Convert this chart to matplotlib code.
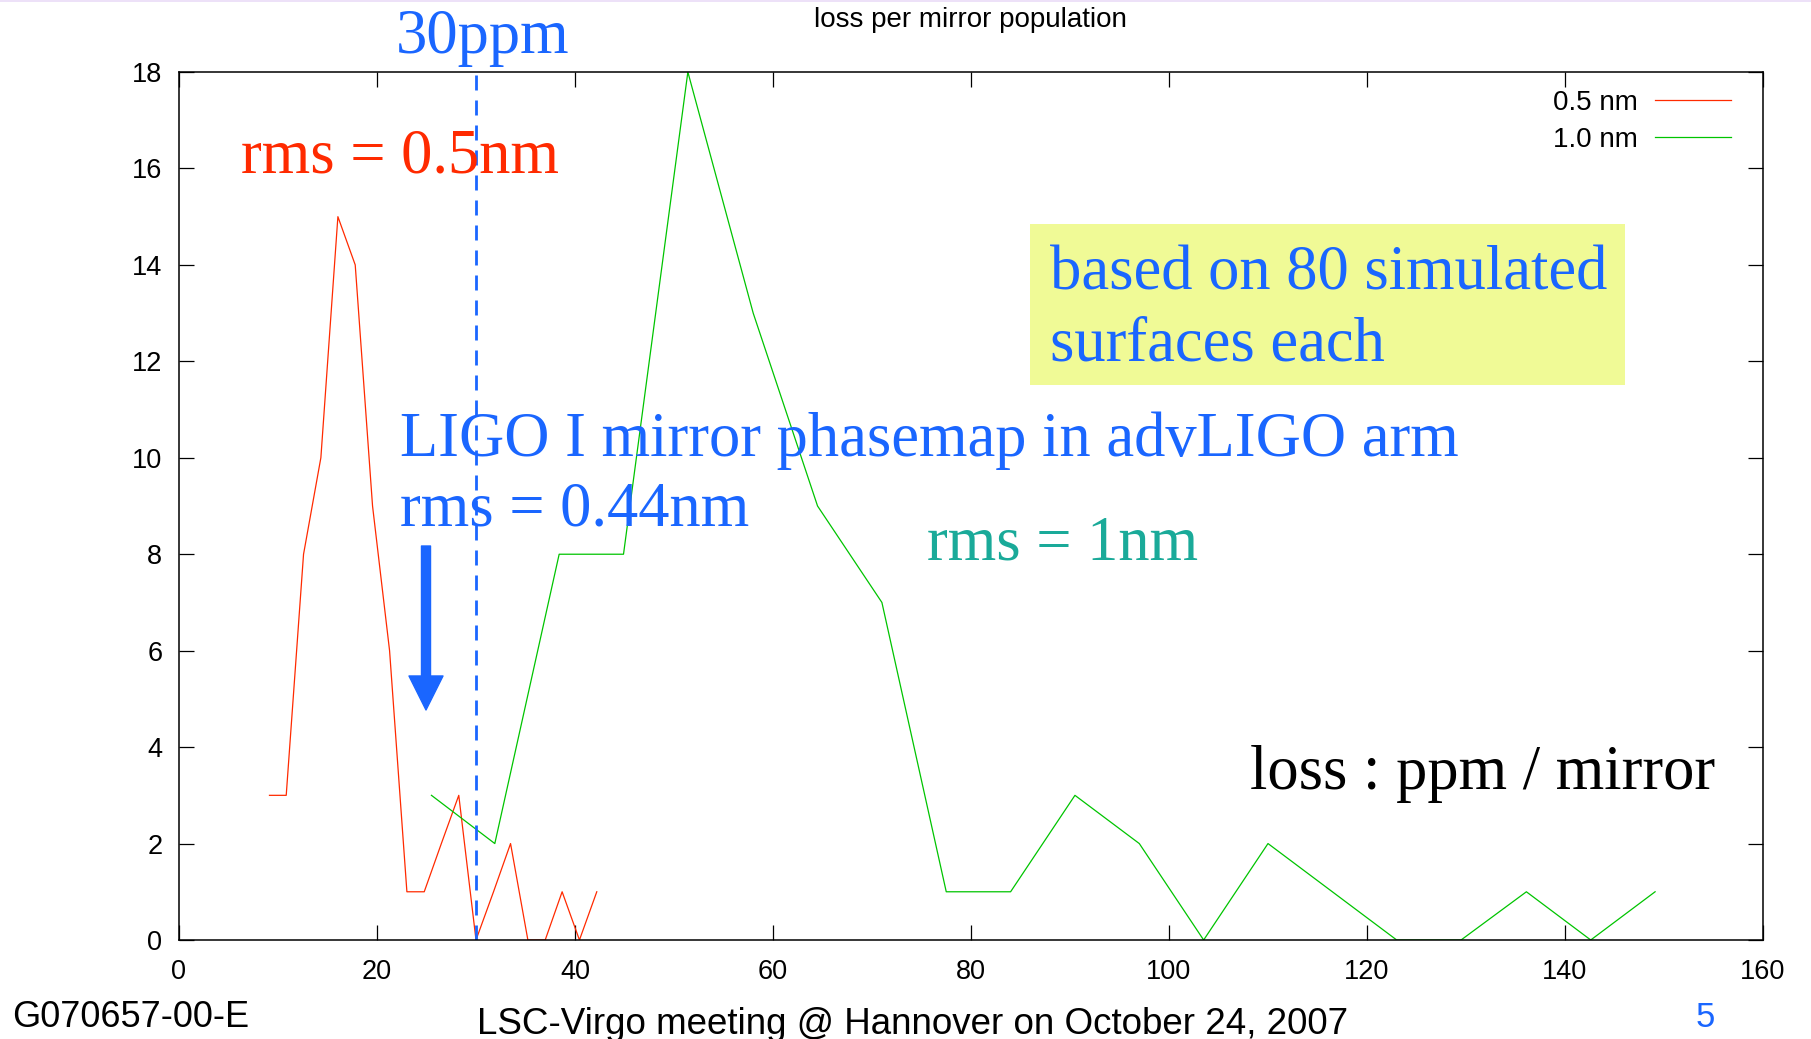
import matplotlib
matplotlib.use("Agg")
import matplotlib.pyplot as plt
from matplotlib.lines import Line2D
from matplotlib.patches import Rectangle

# loss histograms (ppm per mirror), 80 simulated surfaces per rms value
x_05nm = [9.14, 10.83, 12.58, 14.33, 16.05, 17.8, 19.55, 21.27, 23.02, 24.77,
          26.5, 28.26, 30.0, 31.77, 33.49, 35.24, 36.99, 38.7, 40.45, 42.2]
n_05nm = [3, 3, 8, 10, 15, 14, 9, 6, 1, 1, 2, 3, 0, 1, 2, 0, 0, 1, 0, 1]

x_10nm = [25.5, 31.9, 38.4, 44.9, 51.4, 58.0, 64.5, 71.0, 77.5, 84.0,
          90.5, 97.0, 103.5, 110.0, 116.5, 123.0, 129.5, 136.1, 142.6, 149.1]
n_10nm = [3, 2, 8, 8, 18, 13, 9, 7, 1, 1, 3, 2, 0, 2, 1, 0, 0, 1, 0, 1]

labels = ["0.5 nm", "1.0 nm"]
ligo1_loss = 30  # ppm, LIGO I phasemap in advLIGO arm

W, H = 1811, 1039
RED = "#ff2a00"
GREEN = "#00c400"
BLUE = "#1a66ff"
TEAL = "#1aaa99"

plt.rcParams["font.family"] = ["Liberation Sans", "DejaVu Sans"]
SERIF = ["Liberation Serif", "DejaVu Serif"]

fig = plt.figure(figsize=(W / 100, H / 100), dpi=100)


def fx(px):
    return px / W


def fy(py):
    return 1 - py / H


ax = fig.add_axes([fx(179), fy(940), fx(1763) - fx(179), fy(72) - fy(940)])

ax.plot(x_05nm, n_05nm, color=RED, lw=0.9, label=labels[0])
ax.plot(x_10nm, n_10nm, color=GREEN, lw=0.9, label=labels[1])
ax.axvline(ligo1_loss, color=BLUE, lw=2, dashes=(5.4, 3.6))

ax.set_xlim(0, 160)
ax.set_ylim(0, 18)
ax.set_xticks(range(0, 161, 20))
ax.set_yticks(range(0, 19, 2))
ax.tick_params(direction="in", length=10.5, width=0.9, top=True, right=True,
               labelsize=19.5)
ax.tick_params(axis="x", pad=14)
ax.tick_params(axis="y", pad=12)
for sp in ax.spines.values():
    sp.set_linewidth(1.1)

leg = ax.legend(loc="upper right", bbox_to_anchor=(fx(1731), fy(90)),
                bbox_transform=fig.transFigure, frameon=False,
                markerfirst=False, fontsize=20, handlelength=2.75,
                handletextpad=0.6, borderpad=0, borderaxespad=0,
                labelspacing=0.38)

fig.text(fx(970), fy(20), "loss per mirror population", fontsize=20,
         ha="center", va="center")

# annotations on the plot
fig.text(fx(396), fy(53), "30ppm", color=BLUE, fontsize=45, family=SERIF,
         va="baseline")
fig.text(fx(241), fy(172), "rms = 0.5nm", color=RED, fontsize=45,
         family=SERIF, va="baseline")
fig.text(fx(400), fy(456), "LIGO I mirror phasemap in advLIGO arm",
         color=BLUE, fontsize=45, family=SERIF, va="baseline")
fig.text(fx(400), fy(525), "rms = 0.44nm", color=BLUE, fontsize=45,
         family=SERIF, va="baseline")
fig.text(fx(927), fy(560), "rms = 1nm", color=TEAL, fontsize=45,
         family=SERIF, va="baseline")
fig.text(fx(1250), fy(789), "loss : ppm / mirror", color="black",
         fontsize=45, family=SERIF, va="baseline")

fig.patches.append(Rectangle((fx(1030), fy(385)), fx(1625) - fx(1030),
                             fy(224) - fy(385), transform=fig.transFigure,
                             facecolor="#f0fa96", edgecolor="none", zorder=1))
fig.text(fx(1050), fy(289), "based on 80 simulated", color=BLUE,
         fontsize=45, family=SERIF, va="baseline", zorder=2)
fig.text(fx(1050), fy(360), "surfaces each", color=BLUE, fontsize=45,
         family=SERIF, va="baseline", zorder=2)

ax.annotate("", xy=(fx(426), fy(710)), xytext=(fx(426), fy(546)),
            xycoords="figure fraction", textcoords="figure fraction",
            arrowprops=dict(arrowstyle="simple,head_length=24.5,"
                                       "head_width=24.5,tail_width=6.5",
                            mutation_scale=1, color=BLUE, shrinkA=0,
                            shrinkB=0))

# slide footer
fig.text(fx(12), fy(1027), "G070657-00-E", fontsize=26, va="baseline")
fig.text(fx(913), fy(1034), "LSC-Virgo meeting @ Hannover on October 24, 2007",
         fontsize=26.5, ha="center", va="baseline")
fig.text(fx(1696), fy(1027), "5", color=BLUE, fontsize=25, va="baseline")
fig.add_artist(Line2D([0, 1], [fy(0.5), fy(0.5)], transform=fig.transFigure,
                      color="#eadcf7", lw=1.2))

fig.savefig("out.png", dpi=100)
